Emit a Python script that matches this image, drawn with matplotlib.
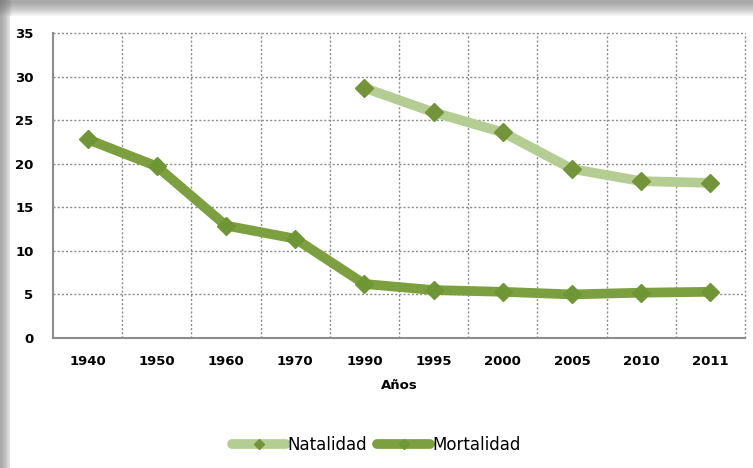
import matplotlib
matplotlib.use("Agg")
import matplotlib.pyplot as plt
from matplotlib.patches import Rectangle
import numpy as np

years = ["1940", "1950", "1960", "1970", "1990", "1995", "2000", "2005", "2010", "2011"]
natalidad = [None, None, None, None, 28.7, 25.9, 23.6, 19.4, 18.0, 17.8]
mortalidad = [22.8, 19.7, 12.9, 11.4, 6.2, 5.5, 5.3, 5.0, 5.2, 5.3]

W, H = 753, 468
fig = plt.figure(figsize=(W/100, H/100), dpi=100)
fig.patch.set_facecolor("white")

# shadow/panel background
bg = fig.add_axes([0, 0, 1, 1])
bg.set_xlim(0, W); bg.set_ylim(H, 0); bg.axis("off")
for i in range(14):
    a = 0.06
    bg.add_patch(Rectangle((0, 0), W, 16 - i, color="#707070", alpha=a, lw=0))
    bg.add_patch(Rectangle((0, 0), 12 - i * 0.8, H, color="#707070", alpha=a, lw=0))
bg.add_patch(Rectangle((10, 16), W, H, color="white", lw=0))

L, R, T, B = 53, 745, 33, 338
ax = fig.add_axes([L/W, 1 - B/H, (R-L)/W, (B-T)/H])
ax.set_facecolor("none")
x = np.arange(len(years))

nat = np.array([np.nan if v is None else v for v in natalidad], dtype=float)
mor = np.array(mortalidad, dtype=float)

ax.plot(x, nat, color="#b3cd92", lw=7, marker="D", ms=9, mfc="#74943a", mec="#74943a",
        solid_capstyle="round", label="Natalidad", zorder=3)
ax.plot(x, mor, color="#7c9f3f", lw=7, marker="D", ms=9, mfc="#6e9634", mec="#6e9634",
        solid_capstyle="round", label="Mortalidad", zorder=3)

ax.set_xlim(-0.5, len(years) - 0.5)
ax.set_ylim(0, 35)
ax.set_yticks(range(0, 36, 5))
ax.set_xticks(x)
ax.set_xticklabels(years, fontweight="bold", fontsize=9.5)
for lab in ax.get_yticklabels():
    lab.set_fontweight("bold"); lab.set_fontsize(9.5)
ax.tick_params(length=0, pad=12)
ax.tick_params(axis="y", pad=14)

for yv in range(5, 36, 5):
    ax.axhline(yv, color="#8c8c8c", lw=1, ls=(0, (1.5, 1.5)), zorder=1, clip_on=False)
for xv in np.arange(0.5, len(years) + 0.5, 1.0):
    ax.axvline(xv, color="#8c8c8c", lw=1, ls=(0, (1.5, 1.5)), zorder=1, clip_on=False)

for s in ["top", "right"]:
    ax.spines[s].set_visible(False)
for s in ["left", "bottom"]:
    ax.spines[s].set_color("#8c8c8c")
    ax.spines[s].set_linewidth(1.5)

ax.set_xlabel("Años", fontweight="bold", fontsize=9.5, labelpad=8)

leg = fig.legend(loc="center", bbox_to_anchor=(0.5, 1 - 445/H), ncol=2, frameon=False,
                 fontsize=12, handlelength=3.2, columnspacing=0.6, handletextpad=0.1,
                 markerscale=0.6)

fig.savefig("out.png", dpi=100, facecolor=fig.get_facecolor())
